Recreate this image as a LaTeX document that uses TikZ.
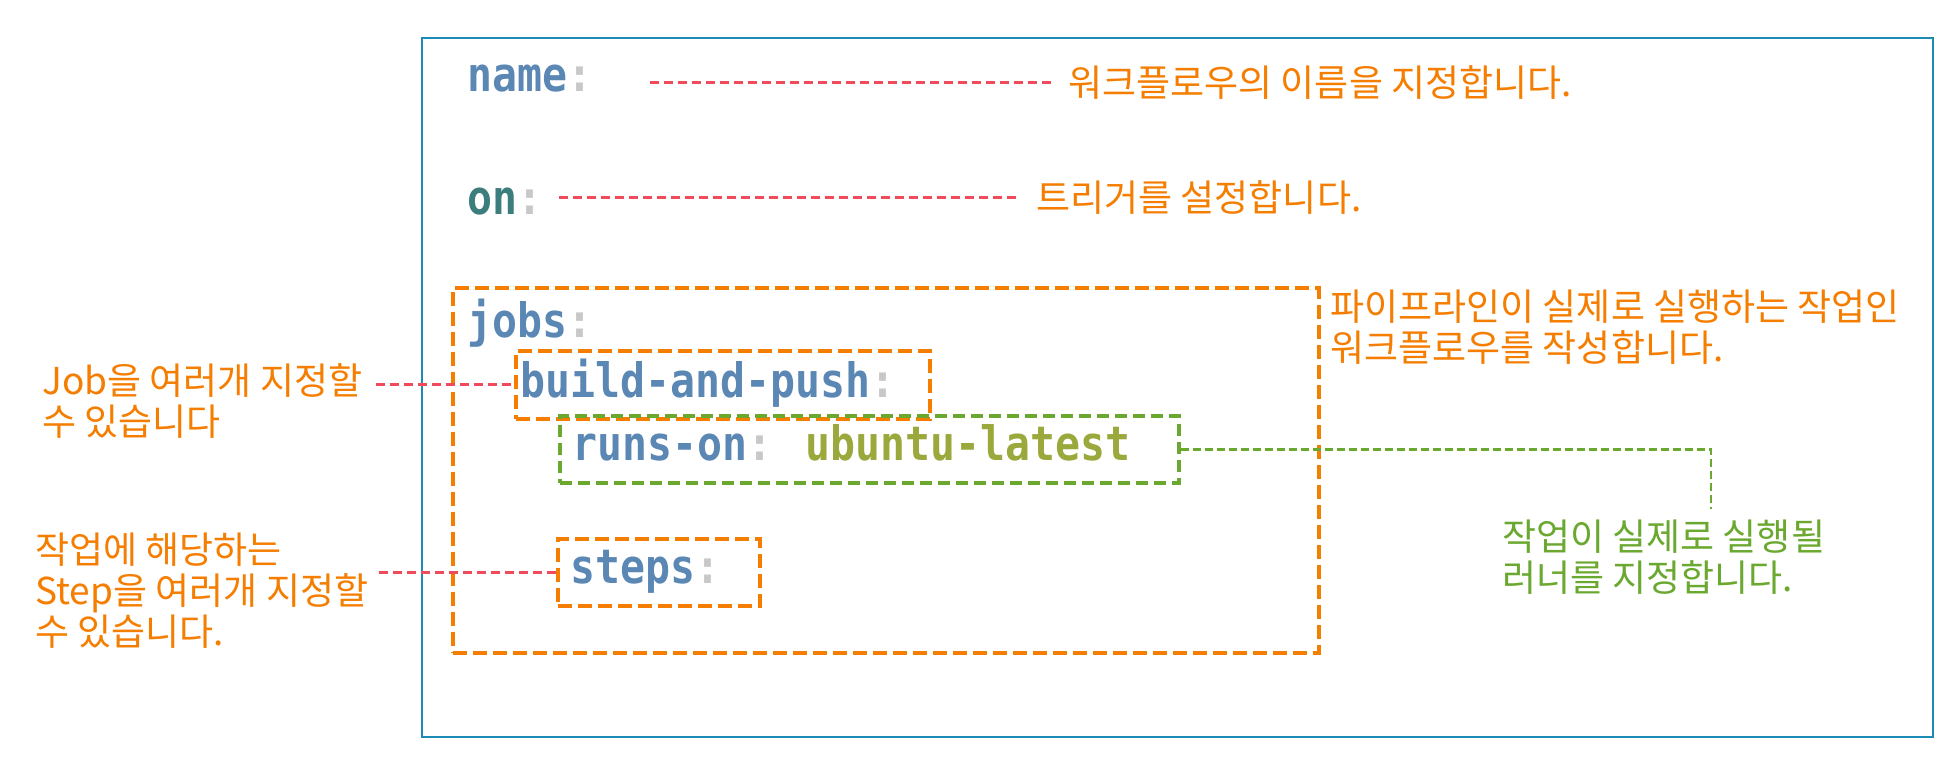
\documentclass[tikz,border=0pt]{standalone}
\usepackage{fontspec}
\setmainfont{Noto Sans CJK KR}
\newfontfamily\codefont[FakeStretch=0.876]{DejaVu Sans Mono}
\newfontfamily\krfont{Noto Sans CJK KR}
\definecolor{framec}{RGB}{30,138,182}
\definecolor{keyc}{RGB}{91,135,180}
\definecolor{onc}{RGB}{60,125,125}
\definecolor{colc}{RGB}{200,200,200}
\definecolor{valc}{RGB}{155,168,60}
\definecolor{orangec}{RGB}{245,125,0}
\definecolor{greenc}{RGB}{106,168,48}
\definecolor{redc}{RGB}{240,75,90}
\begin{document}
\begin{tikzpicture}[x=0.5pt,y=-0.5pt,
  code/.style={inner sep=0pt, anchor=base west, font=\codefont\bfseries\fontsize{23.7pt}{28pt}\selectfont},
  note/.style={inner sep=0pt, anchor=west, align=left, text=orangec, font=\krfont\fontsize{18.5pt}{20.5pt}\selectfont},
  obox/.style={draw=orangec, line width=2pt, dash pattern=on 7pt off 3pt, inner sep=0pt, anchor=north west},
  gbox/.style={draw=greenc, line width=1.8pt, dash pattern=on 6pt off 3pt, inner sep=0pt, anchor=north west},
  redline/.style={draw=redc, line width=1.5pt, dash pattern=on 4.5pt off 2.5pt},
  greenline/.style={draw=greenc, line width=1.3pt, dash pattern=on 4pt off 2pt}]
\useasboundingbox (0,0) rectangle (1960,769);
\fill[white] (0,0) rectangle (1960,769);
% outer frame
\node[draw=framec, line width=1pt, inner sep=0pt, anchor=north west, minimum width=755.5pt, minimum height=349.3pt] (frame) at (421,37.3) {};
% code
\node[code] (kname) at (466.7,91.7) {\textcolor{keyc}{name}\textcolor{colc}{:}};
\node[code] (kon) at (466.7,215) {\textcolor{onc}{on}\textcolor{colc}{:}};
\node[code] (kjobs) at (466.7,338) {\textcolor{keyc}{jobs}\textcolor{colc}{:}};
\node[code] (kbuild) at (520,398) {\textcolor{keyc}{build-and-push}\textcolor{colc}{:}};
\node[code] (kruns) at (571.7,460.7) {\textcolor{keyc}{runs-on}\textcolor{colc}{:} \textcolor{valc}{ubuntu-latest}};
\node[code] (ksteps) at (570,583.3) {\textcolor{keyc}{steps}\textcolor{colc}{:}};
% boxes
\node[obox, minimum width=433pt, minimum height=182.1pt] (jobsbox) at (450.7,286.5) {};
\node[obox, minimum width=207pt, minimum height=33.85pt] (buildbox) at (514,349) {};
\node[gbox, minimum width=309.5pt, minimum height=33.5pt] (runsbox) at (558,414) {};
\node[obox, minimum width=101pt, minimum height=33.5pt] (stepsbox) at (556,537) {};
% notes
\node[note] (n1) at (1068,82.5) {워크플로우의 이름을 지정합니다.};
\node[note] (n2) at (1036,198) {트리거를 설정합니다.};
\node[note] (n3) at (1330,327) {파이프라인이 실제로 실행하는 작업인\\워크플로우를 작성합니다.};
\node[note] (n4) at (42,401) {Job을 여러개 지정할\\수 있습니다};
\node[note] (n5) at (35,591) {작업에 해당하는\\Step을 여러개 지정할\\수 있습니다.};
\node[note, text=greenc] (n6) at (1501.7,557) {작업이 실제로 실행될\\러너를 지정합니다.};
% connectors
\coordinate (nameStart) at (650,82.5);
\coordinate (onStart) at (559,198);
\coordinate (greenEnd) at (1711,509);
\draw[redline, shorten >=6.5pt] (nameStart) -- (nameStart -| n1.west);
\draw[redline, shorten >=8pt] (onStart) -- (onStart -| n2.west);
\draw[redline, shorten <=6.5pt] (n4.east |- buildbox.west) -- (buildbox.west);
\draw[redline, shorten <=5pt] (n5.east |- stepsbox.west) -- (stepsbox.west);
\draw[greenline] (runsbox.east) -| (greenEnd);
\end{tikzpicture}
\end{document}
